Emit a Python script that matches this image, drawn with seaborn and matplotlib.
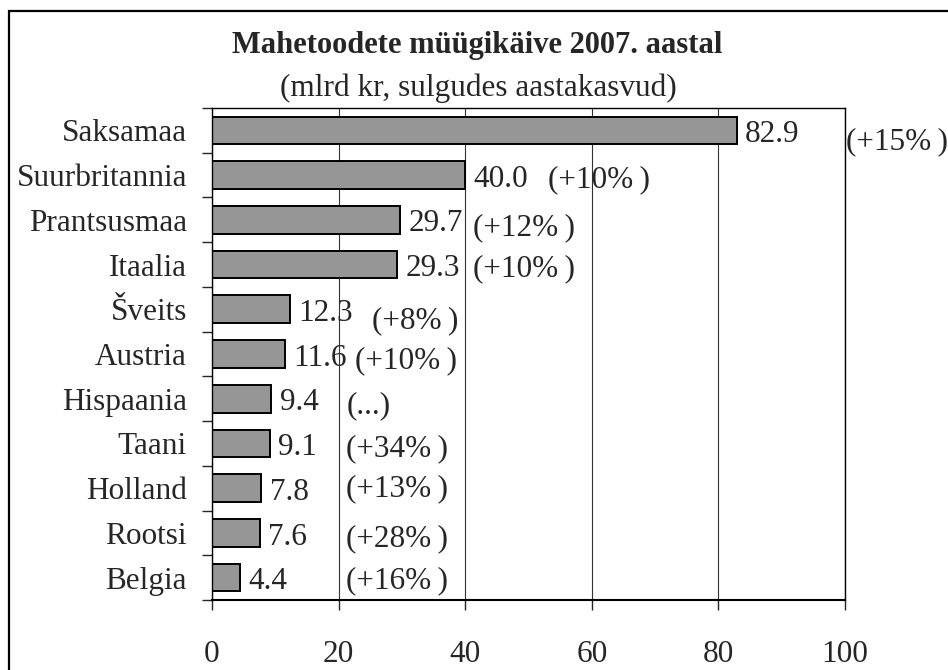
import matplotlib
matplotlib.use("Agg")
import matplotlib.pyplot as plt
from matplotlib.patches import Rectangle
import seaborn as sns

# andmed
riigid = ["Saksamaa", "Suurbritannia", "Prantsusmaa", "Itaalia", "Šveits", "Austria",
          "Hispaania", "Taani", "Holland", "Rootsi", "Belgia"]
kaive = [82.9, 40.0, 29.7, 29.3, 12.3, 11.6, 9.4, 9.1, 7.8, 7.6, 4.4]
kasv = ["(+15%\u2009)", "(+10%\u2009)", "(+12%\u2009)", "(+10%\u2009)", "(+8%\u2009)",
        "(+10%\u2009)", "(...)", "(+34%\u2009)", "(+13%\u2009)", "(+28%\u2009)", "(+16%\u2009)"]

# kasvu siltide asukohad (x andmeühikutes, y nihe punktides)
kasv_x = [100.2, 53.0, 41.3, 41.3, 25.3, 22.6, 21.2, 21.2, 21.2, 21.2, 21.2]
kasv_dy = [-6, -1, -4, -1, -6, -3, -3, -2, 1.5, -2, 0]

sns.set_style("white")
plt.rcParams["font.family"] = ["Liberation Serif", "DejaVu Serif"]
plt.rcParams["font.size"] = 22.5

fig = plt.figure(figsize=(9.48, 6.70), dpi=100)
ax = fig.add_axes([0.2236, 0.1045, 0.6678, 0.7343])

sns.barplot(x=kaive, y=riigid, orient="h", color="#969696", saturation=1,
            edgecolor="black", linewidth=1.4, width=0.62, ax=ax)

ax.set_xlim(0, 100)
ax.set_ylim(10.5, -0.5)
ax.set_xticks([0, 20, 40, 60, 80, 100])
ax.grid(axis="x", color="#333333", linewidth=0.8)
ax.set_axisbelow(True)
for s in ax.spines.values():
    s.set_visible(True)
    s.set_color("black")
    s.set_linewidth(1)
ax.spines["bottom"].set_linewidth(1.5)

ax.tick_params(axis="x", direction="out", length=7, width=1, pad=22,
               bottom=True, labelsize=22.5)
ax.set_yticks([i - 0.5 for i in range(12)], minor=True)
ax.tick_params(axis="y", which="major", length=0, pad=18, labelsize=22.5)
ax.tick_params(axis="y", which="minor", direction="out", length=7, width=1, left=True)
ax.set_xlabel("")
ax.set_ylabel("")

for i, v in enumerate(kaive):
    ax.annotate(f"{v:.1f}", (v, i), xytext=(6, -3), textcoords="offset points",
                ha="left", va="center", fontsize=22.5)
    ax.annotate(kasv[i], (kasv_x[i], i), xytext=(0, kasv_dy[i] - 2),
                textcoords="offset points", ha="left", va="center",
                fontsize=22.5, annotation_clip=False)

fig.text(0.503, 1 - 45 / 670, "Mahetoodete müügikäive 2007. aastal",
         ha="center", va="center", fontsize=22, fontweight="bold")
fig.text(0.505, 1 - 88 / 670, "(mlrd kr, sulgudes aastakasvud)",
         ha="center", va="center", fontsize=22.5)

# raam ümber joonise (parem ja alumine serv jäävad pildist välja)
fig.patches.append(Rectangle((9 / 948, -0.05), 1.0, 1 - 11 / 670 + 0.05,
                             transform=fig.transFigure, fill=False,
                             edgecolor="black", linewidth=1.6))

fig.savefig("out.png", dpi=100)
